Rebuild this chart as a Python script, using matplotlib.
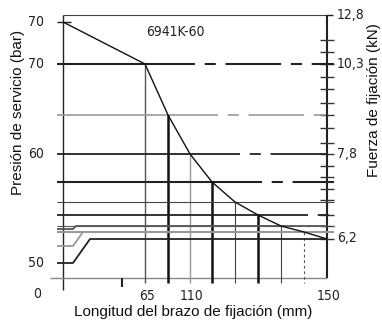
import matplotlib.pyplot as plt

plt.rcParams['lines.scale_dashes'] = False
plt.rcParams['lines.solid_capstyle'] = 'butt'

# chart units: x = column along the arm-length axis, y = height above the x axis
curve_x = [0, 82, 105, 127, 149, 172, 195, 218, 241, 264]
curve_y = [256, 214, 163, 124, 96, 76, 63, 52, 46, 39]

# style of the guide lines through each curve point (index 1..8)
guide_color = ['#222222', '#999999', '#222222', '#222222', '#444444', '#222222', '#555555', '#999999']
hline_width = [1.5, 1.2, 1.3, 1.5, 0.8, 1.3, 0.8, 1.5]
hline_tail = ['dash', 'dash', 'dash', 'dash', 'solid', 'dash', 'dot', 'solid']
vline_color = ['#555555', '#111111', '#999999', '#111111', '#444444', '#111111', '#444444', '#555555']
vline_width = [1.0, 1.8, 1.0, 1.8, 0.8, 1.8, 0.8, 0.8]

# step lines coming in from the left side
step_start_y = [49, 32, 15]
step_level = [52, 46, 39]
step_join_x = [13, 20, 27]
step_color = ['#555555', '#999999', '#222222']

left_labels = ['70', '70', '60', '50']
left_label_y = [256, 214, 124, 15]
bottom_labels = ['65', '110', '150']
bottom_label_x = [82, 127, 264]
right_labels = ['12,8', '10,3', '7,8', '6,2']
right_label_y = [263, 214, 124, 40]
right_ticks = [238, 226, 214, 201, 189, 175, 163, 150, 135, 124, 112, 101, 89, 78, 63, 52, 39]

W, H = 382, 324
fig = plt.figure(figsize=(W / 100, H / 100), dpi=100)
ax = fig.add_axes([63 / W, (H - 278) / H, 264 / W, 263 / H])
ax.set_xlim(0, 264)
ax.set_ylim(0, 263)
ax.axis('off')

kw = dict(clip_on=False)
num_font = dict(family='DejaVu Sans', fontstretch='condensed', fontsize=10, color='#222222')

# frame
ax.plot([0, 264], [263, 263], color='#444444', lw=0.8, **kw)
ax.plot([0, 0], [-12, 263], color='#222222', lw=1.0, **kw)
ax.plot([-13, 264], [0, 0], color='#888888', lw=1.0, **kw)
ax.plot([264, 264], [0, 263], color='#222222', lw=1.5, **kw)
ax.plot([264, 270], [263, 263], color='#222222', lw=1.0, **kw)
ax.plot([59, 59], [0, -9], color='#222222', lw=1.5, **kw)
for t in right_ticks:
    ax.plot([257, 271], [t, t], color='#333333', lw=1.0, **kw)

# horizontal and vertical guides through the curve points
for i in range(1, 9):
    c = guide_color[i - 1]
    lw = hline_width[i - 1]
    ax.plot([-6, curve_x[i]], [curve_y[i], curve_y[i]], color=c, lw=lw, **kw)
    tail = hline_tail[i - 1]
    if tail == 'dash':
        ls = (4, (40, 7, 8, 7))
    elif tail == 'dot':
        ls = (0, (3, 3))
    else:
        ls = '-'
    ax.plot([curve_x[i], 271], [curve_y[i], curve_y[i]], color=c, lw=lw, linestyle=ls, **kw)
    vls = (0, (2, 2)) if i == 8 else '-'
    ax.plot([curve_x[i], curve_x[i]], [curve_y[i], -5], color=vline_color[i - 1],
            lw=vline_width[i - 1], linestyle=vls, **kw)

# step lines joining the lowest levels
for sy, lvl, jx, c in zip(step_start_y, step_level, step_join_x, step_color):
    ax.plot([-6, 10, jx, 264], [sy, sy, lvl, lvl], color=c, lw=1.3, **kw)
ax.plot([-6, 8], [256, 256], color='#222222', lw=1.0, **kw)

# characteristic curve
ax.plot(curve_x, curve_y, color='#111111', lw=1.0, **kw)

# labels
for s, y in zip(left_labels, left_label_y):
    ax.text(-19, y, s, ha='right', va='center', **num_font)
ax.text(-26, -16, '0', ha='center', va='center', **num_font)
for s, x in zip(bottom_labels, bottom_label_x):
    ax.text(x + 2, -18, s, ha='center', va='center', **num_font)
for s, y in zip(right_labels, right_label_y):
    ax.text(274, y, s, ha='left', va='center', **num_font)
ax.text(112, 246, '6941K-60', ha='center', va='center', **num_font)

lab_font = dict(family='Liberation Sans', fontsize=11, color='#111111')
fig.text(18 / W, 1 - 112 / H, 'Presión de servicio (bar)', rotation=90,
         ha='center', va='center', **lab_font)
fig.text(193 / W, 1 - 312 / H, 'Longitud del brazo de fijación (mm)',
         ha='center', va='center', **lab_font)
fig.text(374 / W, 1 - 100 / H, 'Fuerza de fijación (kN)', rotation=90,
         ha='center', va='center', **lab_font)

fig.savefig('out.png', dpi=100)
